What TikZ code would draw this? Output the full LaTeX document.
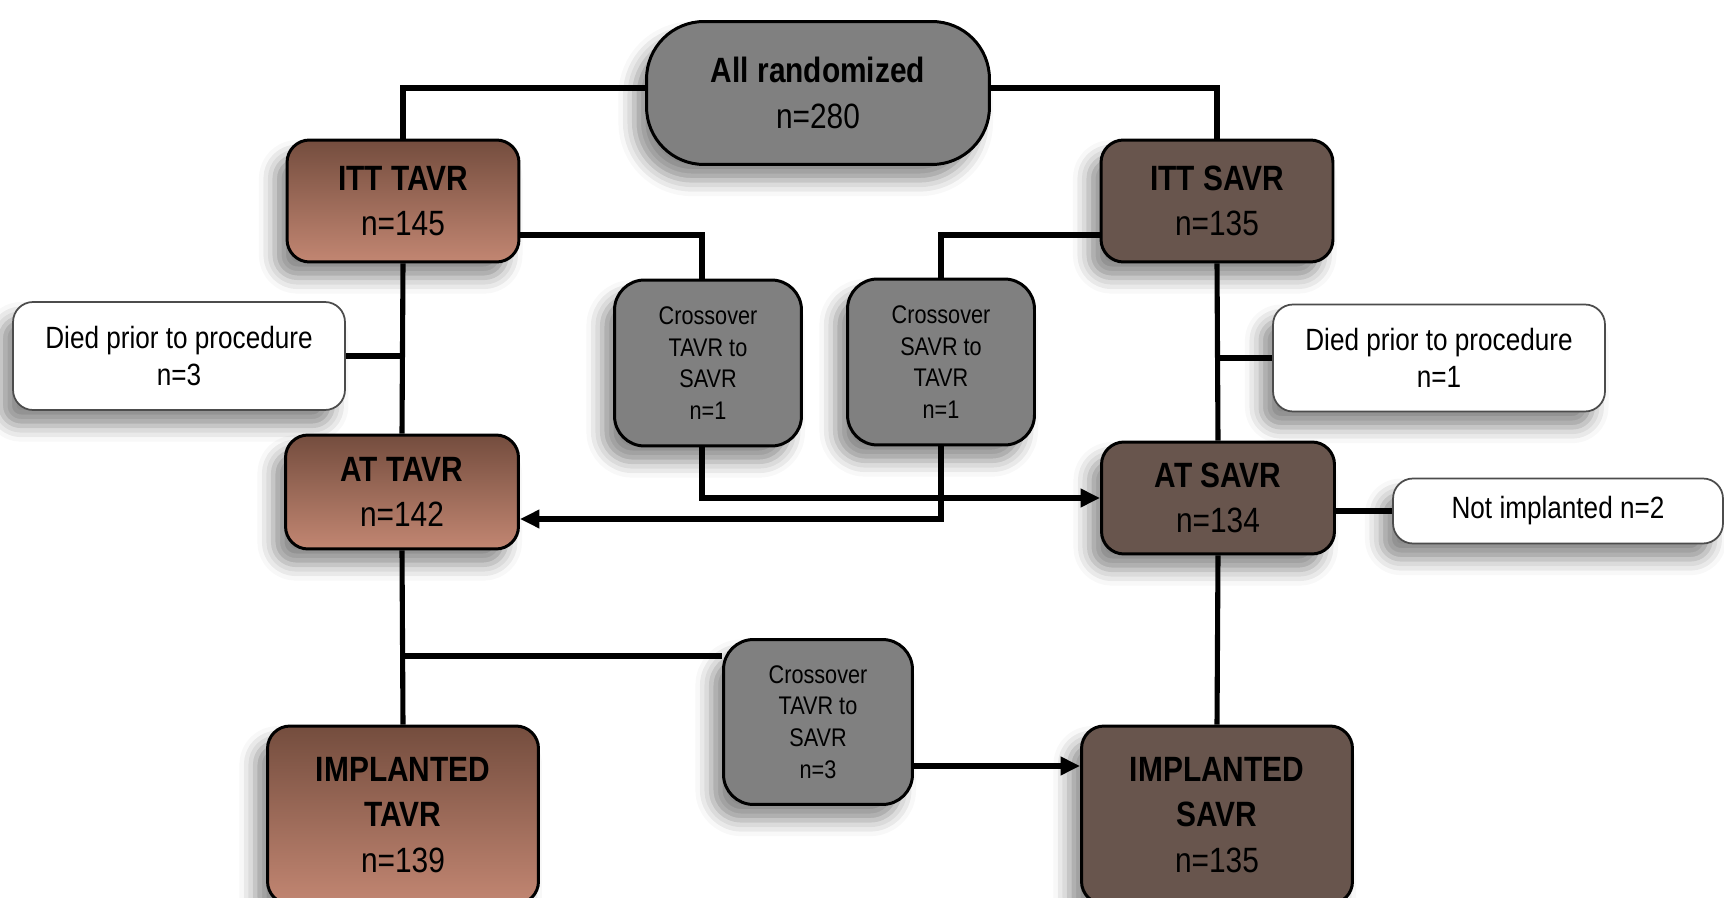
\documentclass[tikz,border=0pt]{standalone}
\usepackage{fontspec}
\setmainfont[FakeStretch=0.85]{Liberation Sans}
\usetikzlibrary{arrows.meta,shadows.blur}
\definecolor{tavrtop}{RGB}{116,77,62}
\definecolor{tavrbot}{RGB}{194,134,114}
\definecolor{savrfill}{RGB}{104,85,77}
\definecolor{boxgray}{RGB}{128,128,128}
\tikzset{
  soft/.style={blur shadow={shadow xshift=-7pt,shadow yshift=-9pt,shadow blur radius=9pt,shadow opacity=45}},
  box/.style={draw=black,line width=1.7pt,rounded corners=0.45cm,align=center,inner sep=0pt,soft},
  bigtext/.style={font=\fontsize{20}{25.8}\selectfont},
  tavr/.style={box,bigtext,top color=tavrtop,bottom color=tavrbot},
  savr/.style={box,bigtext,fill=savrfill},
  cross/.style={box,fill=boxgray,rounded corners=0.6cm,font=\fontsize{14.5}{18}\selectfont},
  note/.style={draw=black!70,line width=1pt,fill=white,rounded corners=0.4cm,align=center,inner sep=0pt,
    font=\fontsize{17.5}{21}\selectfont,soft},
  link/.style={line width=2.9pt},
  arr/.style={link,-{Triangle[length=11pt,width=10pt]}}
}
\begin{document}
\begin{tikzpicture}[x=0.02cm,y=-0.02cm]
    \useasboundingbox (0,0) rectangle (1724,898);

    \node[box,bigtext,fill=boxgray,rounded corners=1.15cm,minimum width=6.86cm,minimum height=2.86cm](allrand) at (818,93){\bfseries All randomized\\n=280};

    \node[tavr,minimum width=4.64cm,minimum height=2.44cm](itttavr) at (403,201){\bfseries ITT TAVR\\n=145};
    \node[savr,minimum width=4.64cm,minimum height=2.44cm](ittsavr) at (1217,201){\bfseries ITT SAVR\\n=135};

    \node[note,minimum width=6.64cm,minimum height=2.16cm](diedtavr) at (179,356){Died prior to procedure\\n=3};
    \node[note,minimum width=6.64cm,minimum height=2.14cm](diedsavr) at (1439,358){Died prior to procedure\\n=1};

    \node[cross,minimum width=3.74cm,minimum height=3.32cm](xtavr) at (708,363){Crossover\\TAVR to\\SAVR\\n=1};
    \node[cross,minimum width=3.74cm,minimum height=3.32cm](xsavr) at (941,362){Crossover\\SAVR to\\TAVR\\n=1};

    \node[tavr,minimum width=4.66cm,minimum height=2.28cm](attavr) at (402,492){\bfseries AT TAVR\\n=142};
    \node[savr,minimum width=4.66cm,minimum height=2.24cm](atsavr) at (1218,498){\bfseries AT SAVR\\n=134};
    \node[note,minimum width=6.6cm,minimum height=1.3cm](notimpl) at (1558,511){Not implanted n=2};

    \node[cross,minimum width=3.78cm,minimum height=3.3cm](xlate) at (818,722){Crossover\\TAVR to\\SAVR\\n=3};

    \node[tavr,minimum width=5.42cm,minimum height=3.56cm](imptavr) at (403,815){\bfseries IMPLANTED\\\bfseries TAVR\\n=139};
    \node[savr,minimum width=5.42cm,minimum height=3.56cm](impsavr) at (1217,815){\bfseries IMPLANTED\\\bfseries SAVR\\n=135};

    \draw[link]([yshift=0.1cm]allrand.west)-|(itttavr.north);
    \draw[link]([yshift=0.1cm]allrand.east)-|(ittsavr.north);
    \draw[link]([yshift=-0.68cm]itttavr.east)-|([xshift=-0.12cm]xtavr.north);
    \draw[link]([yshift=-0.68cm]ittsavr.west)-|(xsavr.north);

    \draw[link](itttavr.south)--(attavr.north);
    \draw[link](ittsavr.south)--(atsavr.north);
    \draw[link](diedtavr.east)--(diedtavr.east-|attavr.north);
    \draw[link](diedsavr.west)--(diedsavr.west-|atsavr.north);

    \draw[arr]([xshift=-0.12cm]xtavr.south)|-(atsavr.west);
    \draw[arr](xsavr.south)|-([yshift=-0.54cm]attavr.east);
    \draw[link](notimpl.west)--(notimpl.west-|atsavr.east);

    \draw[link](attavr.south)--(imptavr.north);
    \draw[link](atsavr.south)--(impsavr.north);
    \coordinate(tap) at (402,656);
    \draw[link](tap)--(tap-|xlate.west);
    \draw[arr]([yshift=-0.88cm]xlate.east)--([yshift=-0.88cm]xlate.east-|impsavr.west);
\end{tikzpicture}
\end{document}
